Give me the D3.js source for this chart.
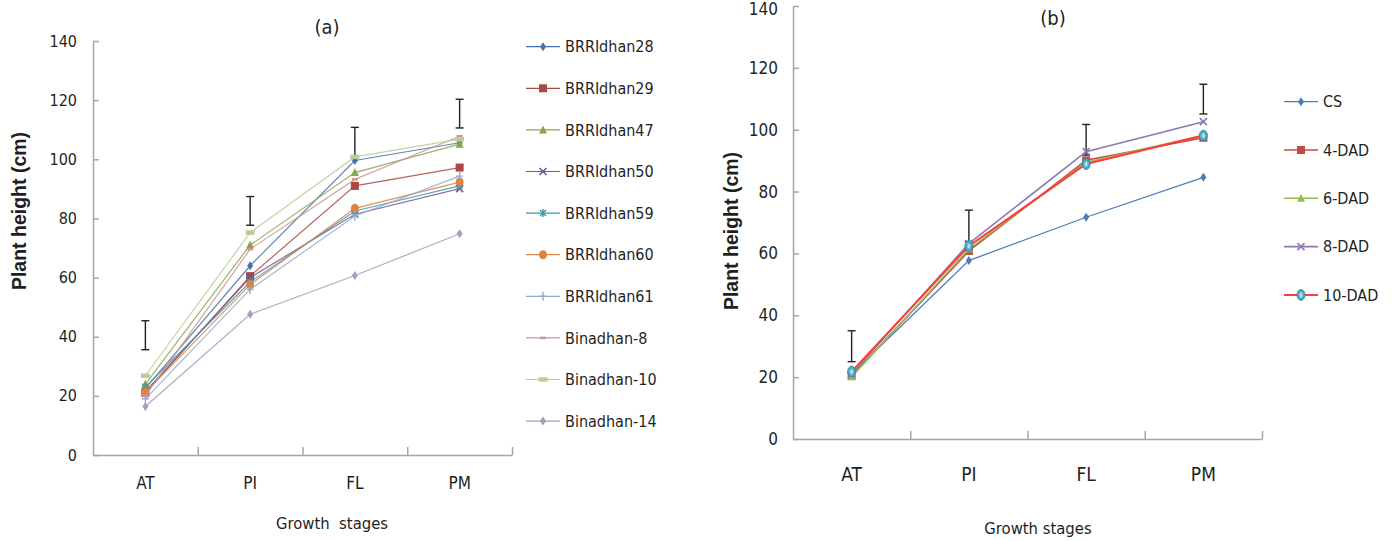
<!DOCTYPE html>
<html lang="en">
<head>
<meta charset="UTF-8">
<title>Plant height at growth stages</title>
<script src="https://d3js.org/d3.v7.min.js"></script>
<style>
  body { margin: 0; background: #fff; }
  svg { display: block; }
  text { font-family: "Liberation Sans Narrow", "DejaVu Sans Condensed", "Roboto Condensed", "Liberation Sans", sans-serif; fill: #1f1f1f; }
  .ylab { font-family: "Liberation Sans", Arial, sans-serif; font-weight: bold; }
  .axis path, .axis line { stroke: #a6a6a6; stroke-width: 1.5; }
</style>
</head>
<body>
<svg id="chart" width="1392" height="541"></svg>
<script>
// ---- data ----
const stages = ["AT", "PI", "FL", "PM"];
const yTicks = [0, 20, 40, 60, 80, 100, 120, 140];

const varieties = ["BRRIdhan28", "BRRIdhan29", "BRRIdhan47", "BRRIdhan50", "BRRIdhan59",
                   "BRRIdhan60", "BRRIdhan61", "Binadhan-8", "Binadhan-10", "Binadhan-14"];
const heightsA = [
  [22.5, 64, 99.6, 105.6],
  [21, 60.5, 91, 97.2],
  [24, 71, 95.5, 105.1],
  [21.5, 60, 81.4, 90.1],
  [23, 58.5, 82.5, 91],
  [21.2, 57.6, 83.4, 92.3],
  [19, 56, 80.8, 94.3],
  [20, 69.6, 93.2, 107.8],
  [26.8, 75.2, 100.8, 106.8],
  [16.4, 47.6, 60.7, 74.8]
];
const errLowA = [35.6, 77.7, 100.8, 110.6];
const errHighA = [45.4, 87.4, 110.8, 120.3];

const treatments = ["CS", "4-DAD", "6-DAD", "8-DAD", "10-DAD"];
const heightsB = [
  [21, 57.7, 71.7, 84.6],
  [20.4, 60.8, 90.1, 97.4],
  [20.1, 61.4, 89.5, 98.2],
  [21, 63.2, 92.9, 102.6],
  [21.8, 62.4, 88.9, 98.1]
];
const errLowB = [25, 63.8, 91.8, 105.1];
const errHighB = [35, 74, 101.7, 114.7];

const colorsA = ["#4572A7", "#AA4643", "#89A54E", "#71588F", "#4198AF",
                 "#DB843D", "#93A9CF", "#D19392", "#B9CD96", "#A99BBD"];
const markersA = ["diamond", "square", "triangle", "x", "star", "circle", "plus", "dash", "bar", "diamond"];
const colorsB = ["#4A7EBB", "#BE4B48", "#98B954", "#8D79B0", "#FF3B3B"];
const markersB = ["diamond", "square", "triangle", "x", "oval"];

const svg = d3.select("#chart");

function drawMarker(g, type, color, cx, cy) {
  const m = g.append("g").attr("transform", `translate(${cx},${cy})`);
  if (type === "diamond") {
    m.append("path").attr("d", "M0,-4.5L3,0L0,4.5L-3,0Z").attr("fill", color);
  } else if (type === "square") {
    m.append("rect").attr("x", -4).attr("y", -4).attr("width", 8).attr("height", 8).attr("fill", color);
  } else if (type === "triangle") {
    m.append("path").attr("d", "M0,-4.5L4,3.5L-4,3.5Z").attr("fill", color);
  } else if (type === "x") {
    m.append("path").attr("d", "M-3.5,-3.5L3.5,3.5M-3.5,3.5L3.5,-3.5")
      .attr("stroke", color).attr("stroke-width", 1.6).attr("fill", "none");
  } else if (type === "star") {
    m.append("path").attr("d", "M-3,-3L3,3M-3,3L3,-3M0,-4V4")
      .attr("stroke", color).attr("stroke-width", 1.4).attr("fill", "none");
  } else if (type === "circle") {
    m.append("ellipse").attr("rx", 4).attr("ry", 4.5).attr("fill", color);
  } else if (type === "plus") {
    m.append("path").attr("d", "M0,-4.5V4.5M-3.5,0H3.5")
      .attr("stroke", color).attr("stroke-width", 1.4).attr("fill", "none");
  } else if (type === "dash") {
    m.append("path").attr("d", "M-3,0H3").attr("stroke", color).attr("stroke-width", 2.5);
  } else if (type === "bar") {
    m.append("rect").attr("x", -4.5).attr("y", -2.2).attr("width", 9).attr("height", 4.4).attr("fill", color);
  } else if (type === "oval") {
    m.append("ellipse").attr("rx", 4).attr("ry", 5.5).attr("fill", "#4BACC6").attr("stroke", "#31849B").attr("stroke-width", 0.8);
    m.append("ellipse").attr("rx", 1.6).attr("ry", 2.6).attr("fill", "#B7DEE8");
  }
}

function drawPanel(cfg) {
  const x = d3.scaleBand().domain(stages).range([cfg.left, cfg.right]);
  const xb = d3.scaleLinear().domain([0, 4]).range([cfg.left, cfg.right]);
  const y = d3.scaleLinear().domain([0, 140]).range([cfg.bottom, cfg.top]);
  const cx = s => x(s) + x.bandwidth() / 2;
  const g = svg.append("g");

  // y axis, ticks point inwards
  const ya = g.append("g").attr("class", "axis")
    .attr("transform", `translate(${cfg.left},0)`)
    .call(d3.axisLeft(y).tickValues(yTicks).tickSize(-6).tickSizeOuter(0).tickPadding(cfg.yPad));
  ya.selectAll("text").style("font-size", cfg.tickFont + "px");
  // keep the top label inside the page
  ya.selectAll("text").filter(d => y(d) < 10).attr("dy", "0.5em");

  // x axis line with boundary ticks
  g.append("g").attr("class", "axis")
    .attr("transform", `translate(0,${cfg.bottom})`)
    .call(d3.axisBottom(xb).tickValues([1, 2, 3, 4]).tickSize(-8).tickSizeOuter(0).tickFormat(""));
  const xa = g.append("g")
    .attr("transform", `translate(0,${cfg.bottom})`)
    .call(d3.axisBottom(x).tickSize(0).tickPadding(cfg.xPad));
  xa.select(".domain").remove();
  xa.selectAll("text").style("font-size", cfg.xFont + "px");

  // error bars
  const capW = 4;
  stages.forEach((s, i) => {
    const eb = g.append("g").attr("stroke", "#222").attr("stroke-width", 1.4);
    eb.append("line").attr("x1", cx(s)).attr("x2", cx(s)).attr("y1", y(cfg.errLow[i])).attr("y2", y(cfg.errHigh[i]));
    eb.append("line").attr("x1", cx(s) - capW).attr("x2", cx(s) + capW).attr("y1", y(cfg.errLow[i])).attr("y2", y(cfg.errLow[i]));
    eb.append("line").attr("x1", cx(s) - capW).attr("x2", cx(s) + capW).attr("y1", y(cfg.errHigh[i])).attr("y2", y(cfg.errHigh[i]));
  });

  // series
  const line = d3.line().x((d, i) => cx(stages[i])).y(d => y(d));
  cfg.values.forEach((vals, k) => {
    g.append("path").datum(vals)
      .attr("d", line)
      .attr("fill", "none")
      .attr("stroke", cfg.colors[k])
      .attr("stroke-width", cfg.lineW[k])
      .attr("stroke-opacity", cfg.lineOpacity);
    vals.forEach((v, i) => drawMarker(g, cfg.markers[k], cfg.colors[k], cx(stages[i]), y(v)));
  });

  // legend
  cfg.names.forEach((n, k) => {
    const ly = cfg.legY + k * cfg.legStep;
    g.append("line").attr("x1", cfg.legX).attr("x2", cfg.legX + 34)
      .attr("y1", ly).attr("y2", ly)
      .attr("stroke", cfg.colors[k]).attr("stroke-width", cfg.lineW[k]);
    drawMarker(g, cfg.markers[k], cfg.colors[k], cfg.legX + 17, ly);
    g.append("text").attr("x", cfg.legX + 39).attr("y", ly).attr("dy", "0.36em")
      .style("font-size", cfg.legFont + "px").text(n);
  });

  // titles
  g.append("text").attr("x", cfg.titleX).attr("y", cfg.titleY).attr("dy", "0.36em")
    .attr("text-anchor", "middle").style("font-size", "20px").text(cfg.title);
  g.append("text").attr("x", cfg.xLabX).attr("y", cfg.xLabY)
    .attr("text-anchor", "middle").style("font-size", cfg.xLabFont + "px")
    .attr("xml:space", "preserve").style("white-space", "pre").text(cfg.xLab);
  g.append("text").attr("class", "ylab")
    .attr("transform", `translate(${cfg.yLabX},${cfg.yLabY}) rotate(-90)`)
    .attr("text-anchor", "middle").attr("dy", "0.36em")
    .style("font-size", "19.5px").text("Plant height (cm)");
}

drawPanel({
  left: 93, right: 512, top: 41, bottom: 455,
  values: heightsA, names: varieties, colors: colorsA, markers: markersA,
  lineW: d3.range(10).map(() => 1.2), lineOpacity: 0.85,
  errLow: errLowA, errHigh: errHighA,
  yPad: 16, tickFont: 16, xPad: 22, xFont: 17,
  legX: 526, legY: 46.7, legStep: 41.6, legFont: 16,
  title: "(a)", titleX: 327, titleY: 27,
  xLab: "Growth  stages", xLabX: 332, xLabY: 529, xLabFont: 16.5,
  yLabX: 19, yLabY: 211
});

drawPanel({
  left: 793, right: 1262, top: 6, bottom: 439,
  values: heightsB, names: treatments, colors: colorsB, markers: markersB,
  lineW: [1.3, 1.6, 1.6, 1.6, 2], lineOpacity: 1,
  errLow: errLowB, errHigh: errHighB,
  yPad: 15, tickFont: 17, xPad: 29, xFont: 19,
  legX: 1284, legY: 101.7, legStep: 48.3, legFont: 16,
  title: "(b)", titleX: 1053, titleY: 18,
  xLab: "Growth stages", xLabX: 1038, xLabY: 534, xLabFont: 16.5,
  yLabX: 731, yLabY: 231
});
</script>
</body>
</html>
